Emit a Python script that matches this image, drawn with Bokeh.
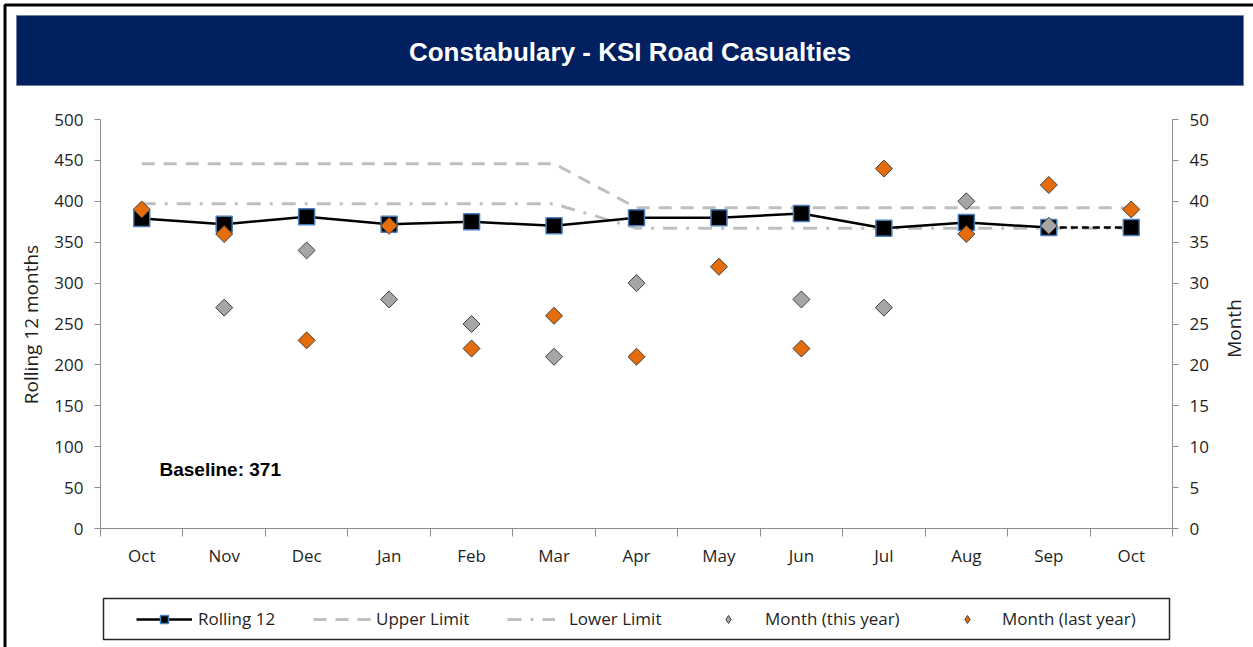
import numpy as np
from bokeh.plotting import figure
from bokeh.models import (Range1d, LinearAxis, FixedTicker, Label, Legend, LegendItem,
                          BoxAnnotation)
from bokeh.embed import file_html
from bokeh.resources import INLINE

# ---------------- data ----------------
months = ["Oct", "Nov", "Dec", "Jan", "Feb", "Mar", "Apr", "May", "Jun", "Jul", "Aug", "Sep", "Oct"]
rolling_12 = [379, 372, 381, 372, 375, 370, 380, 380, 385, 367, 374, 368, 368]
upper_limit = [446, 446, 446, 446, 446, 446, 392, 392, 392, 392, 392, 392, 392]
lower_limit = [397, 397, 397, 397, 397, 397, 367, 367, 367, 367, 367, 367, 367]
month_this_year = [np.nan, 27, 34, 28, 25, 21, 30, np.nan, 28, 27, 40, 37, np.nan]
month_last_year = [39, 36, 23, 37, 22, 26, 21, 32, 22, 44, 36, 42, 39]
left_ticks = list(range(0, 501, 50))
right_ticks = list(range(0, 51, 5))
baseline = 371

x = list(range(len(months)))

# ---------------- layout (pixels) ----------------
W, H = 1253, 647                      # canvas = frame
PL, PR, PT, PB = 100, 1172, 119, 528  # plot area inside canvas
X0, X1 = -0.5, len(months) - 0.5
Y0, Y1 = 0, 500
Y20, Y21 = 0, 50

kx = (PR - PL) / (X1 - X0)
ky = (PB - PT) / (Y1 - Y0)
ky2 = (PB - PT) / (Y21 - Y20)
x_range = Range1d(X0 - PL / kx, X1 + (W - PR) / kx)
y_range = Range1d(Y0 - (H - PB) / ky, Y1 + PT / ky)
y2_range = Range1d(Y20 - (H - PB) / ky2, Y21 + PT / ky2)

FONT = "Open Sans"
TICK_COLOR = "#1f1f1f"
AXIS_COLOR = "#8c8c8c"

p = figure(frame_width=W, frame_height=H, output_backend="svg", toolbar_location=None,
           x_range=x_range, y_range=y_range, min_border=0, title=None,
           background_fill_color="white", border_fill_color="white")
p.outline_line_color = None
p.xgrid.visible = False
p.ygrid.visible = False
p.extra_y_ranges = {"right": y2_range}

# x axis (ticks between categories)
xa = p.xaxis[0]
xa.fixed_location = Y0
xa.bounds = (X0, X1)
xa.ticker = FixedTicker(ticks=x, minor_ticks=[i - 0.5 for i in range(len(months) + 1)])
xa.major_label_overrides = {i: m for i, m in enumerate(months)}
xa.major_tick_line_color = None
xa.major_tick_out = 0
xa.major_tick_in = 0
xa.minor_tick_out = 8
xa.minor_tick_in = 0
xa.minor_tick_line_color = AXIS_COLOR
xa.axis_line_color = AXIS_COLOR
xa.major_label_standoff = 7
xa.major_label_text_font = FONT
xa.major_label_text_font_size = "17px"
xa.major_label_text_color = TICK_COLOR

# left axis
ya = p.yaxis[0]
ya.fixed_location = X0
ya.bounds = (Y0, Y1)
ya.ticker = FixedTicker(ticks=left_ticks)
ya.major_tick_out = 6
ya.major_tick_in = 0
ya.minor_tick_line_color = None
ya.major_tick_line_color = AXIS_COLOR
ya.axis_line_color = AXIS_COLOR
ya.major_label_standoff = 11
ya.major_label_text_font = FONT
ya.major_label_text_font_size = "17px"
ya.major_label_text_color = TICK_COLOR

# right axis
ra = LinearAxis(y_range_name="right", ticker=FixedTicker(ticks=right_ticks),
                fixed_location=X1, bounds=(Y20, Y21))
ra.major_tick_out = 6
ra.major_tick_in = 0
ra.minor_tick_line_color = None
ra.major_tick_line_color = AXIS_COLOR
ra.axis_line_color = AXIS_COLOR
ra.major_label_standoff = 11
ra.major_label_text_font = FONT
ra.major_label_text_font_size = "17px"
ra.major_label_text_color = TICK_COLOR
p.add_layout(ra, "right")

# ---------------- glyphs ----------------
r_upper = p.line(x, upper_limit, line_color="#BFBFBF", line_width=3, line_dash="13 9")
r_lower = p.line(x, lower_limit, line_color="#BFBFBF", line_width=3, line_dash="14 9 3 9")
r_roll = p.line(x[:-1], rolling_12[:-1], line_color="black", line_width=2.5)
p.line(x[-2:], rolling_12[-2:], line_color="black", line_width=2.5, line_dash="7 4")
r_sq = p.scatter(x, rolling_12, marker="square", size=16, fill_color="black",
                 line_color="#4A7EBB", line_width=1.5)
p.scatter(x, month_this_year, y_range_name="right", marker="square", angle=np.pi / 4,
          size=12, fill_color="#A6A6A6", line_color="#404040", line_width=1)
p.scatter(x, month_last_year, y_range_name="right", marker="square", angle=np.pi / 4,
          size=12, fill_color="#E46C0A", line_color="#404040", line_width=1)

# legend-only diamond renderers
r_leg_this = p.scatter([0], [np.nan], marker="diamond", size=13, fill_color="#A6A6A6",
                       line_color="#404040", line_width=1)
r_leg_last = p.scatter([0], [np.nan], marker="diamond", size=13, fill_color="#E46C0A",
                       line_color="#404040", line_width=1)


def box(l, r, t, b, **kw):
    return BoxAnnotation(left=l, right=r, top=H - t, bottom=H - b,
                         left_units="screen", right_units="screen",
                         top_units="screen", bottom_units="screen",
                         line_alpha=1, line_dash="solid", **kw)


def label(xp, yp, text, **kw):
    return Label(x=xp, y=H - yp, x_units="screen", y_units="screen", text=text, **kw)


# outer frame
p.add_layout(box(4.5, 1300, 4.5, 700, fill_alpha=0, line_color="black", line_width=3))
# title banner
p.add_layout(box(16, 1243, 15, 85, fill_color="#002060", fill_alpha=1,
                 line_color="#6f7f9f", line_width=1))
p.add_layout(label(629.5, 51, "Constabulary - KSI Road Casualties", text_align="center",
                   text_baseline="middle", text_color="white", text_font="Liberation Sans",
                   text_font_style="bold", text_font_size="26px"))
# axis titles
p.add_layout(label(30, 324, "Rolling 12 months", angle=np.pi / 2, text_align="center",
                   text_baseline="middle", text_color=TICK_COLOR, text_font=FONT,
                   text_font_size="19px"))
p.add_layout(label(1233, 328, "Month", angle=np.pi / 2, text_align="center",
                   text_baseline="middle", text_color=TICK_COLOR, text_font=FONT,
                   text_font_size="19px"))
# baseline
p.add_layout(label(159, 468.5, f"Baseline: {baseline}", text_align="left",
                   text_baseline="middle", text_color="black", text_font="Liberation Sans",
                   text_font_style="bold", text_font_size="19px"))

# legend frame
p.add_layout(box(103, 1169, 598, 639, fill_color="white", fill_alpha=1,
                 line_color="#262626", line_width=1.5))

legend_specs = [
    ("Rolling 12", [r_roll, r_sq], 136, 56, 6),
    ("Upper Limit", [r_upper], 313, 60, 3),
    ("Lower Limit", [r_lower], 507, 48, 14),
    ("Month (this year)", [r_leg_this], 718, 20, 27),
    ("Month (last year)", [r_leg_last], 957, 20, 25),
]
for text, rends, lx, gw, st in legend_specs:
    lg = Legend(items=[LegendItem(label=text, renderers=rends)], location=(lx, H - 630),
                orientation="horizontal", glyph_width=gw, glyph_height=20,
                label_standoff=st, label_height=20, padding=0, margin=0, spacing=0,
                border_line_alpha=0, background_fill_alpha=0,
                label_text_font=FONT, label_text_font_size="17px",
                label_text_color=TICK_COLOR)
    p.add_layout(lg)

open("out.html", "w").write(file_html(p, INLINE))
